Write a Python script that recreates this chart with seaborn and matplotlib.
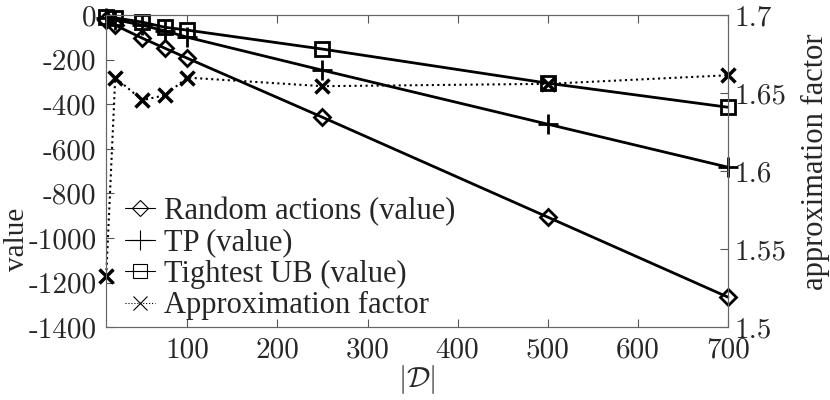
import pandas as pd
import matplotlib.pyplot as plt
import seaborn as sns
from matplotlib.lines import Line2D

# data
sizes = [10, 20, 50, 75, 100, 250, 500, 700]
random_value = [-22, -45, -103, -148, -193, -458, -906, -1265]
tp_value = [-13, -20, -45, -70, -99, -247, -489, -682]
ub_value = [-9, -12, -31, -54, -67, -152, -305, -413]
approx_factor = [1.533, 1.660, 1.6455, 1.6487, 1.660, 1.6545, 1.656, 1.6615]

value_ticks = [0, -200, -400, -600, -800, -1000, -1200, -1400]
factor_ticks = [1.5, 1.55, 1.6, 1.65, 1.7]
x_ticks = [100, 200, 300, 400, 500, 600, 700]

sns.set_style("ticks")
plt.rcParams['font.family'] = ['cmr10', 'DejaVu Serif']
plt.rcParams['mathtext.fontset'] = 'cm'
plt.rcParams['axes.unicode_minus'] = False
plt.rcParams['axes.formatter.use_mathtext'] = True

times = ['Liberation Serif', 'DejaVu Serif']
cm = ['cmr10', 'DejaVu Serif']

df = pd.DataFrame({
    "size": sizes,
    "random": random_value,
    "tp": tp_value,
    "ub": ub_value,
    "factor": approx_factor,
})

fig, ax = plt.subplots(figsize=(8.3, 4.0), dpi=100)
ax2 = ax.twinx()

style = dict(color="black", linewidth=2, markersize=10, markerfacecolor="none",
             markeredgecolor="black", markeredgewidth=2, clip_on=False)
sns.lineplot(data=df, x="size", y="random", marker="D", ax=ax, **{**style, "markersize": 8})
sns.lineplot(data=df, x="size", y="tp", marker="+", ax=ax, **{**style, "markersize": 14})
sns.lineplot(data=df, x="size", y="ub", marker="s", ax=ax, **style)
sns.lineplot(data=df, x="size", y="factor", marker="x", ax=ax2,
             color="black", linewidth=1.5, linestyle=":", markersize=10,
             markeredgecolor="black", markeredgewidth=2.5, clip_on=False)

fs = 21
ax.set_xlim(10, 700)
ax.set_ylim(-1400, 0)
ax2.set_ylim(1.5, 1.7)

ax.set_xticks(x_ticks)
ax.set_xticklabels([str(t) for t in x_ticks], fontsize=fs, family=cm)
ax.set_yticks(value_ticks)
ax.set_yticklabels([str(t) for t in value_ticks], fontsize=fs, family=cm)
ax2.set_yticks(factor_ticks)
ax2.set_yticklabels([f"{t:g}" for t in factor_ticks], fontsize=fs, family=cm)

ax.tick_params(axis="both", direction="in", length=6, width=0.8, color="#555555", top=True)
ax.tick_params(axis="y", pad=7)
ax.tick_params(axis="x", pad=7)
ax2.tick_params(axis="y", direction="in", length=6, width=0.8, color="#555555", pad=5)
for a in (ax, ax2):
    for sp in a.spines.values():
        sp.set_visible(True)
        sp.set_color("#666666")
        sp.set_linewidth(0.8)

ax.set_xlabel(r"$|\mathcal{D}|$", fontsize=fs, labelpad=0)
ax.set_ylabel("value", fontsize=21, family=times)
ax.yaxis.set_label_coords(-0.122, 0.28)
ax2.set_ylabel("approximation factor", fontsize=22, family=times)
ax2.yaxis.set_label_coords(1.117, 0.53)

handles = [
    Line2D([], [], color="black", lw=0.8, marker="D", markersize=8, mfc="none", mew=0.8),
    Line2D([], [], color="black", lw=0.8, marker="+", markersize=14, mew=0.8),
    Line2D([], [], color="black", lw=0.8, marker="s", markersize=10, mfc="none", mew=0.8),
    Line2D([], [], color="black", lw=0.8, ls=":", marker="x", markersize=10, mew=0.8),
]
labels = ["Random actions (value)", "TP (value)", "Tightest UB (value)", "Approximation factor"]
ax2.legend(handles, labels, loc="lower left", bbox_to_anchor=(0.0, -0.037), frameon=False,
           prop={"family": times, "size": 22}, handlelength=1.0, handletextpad=0.3,
           labelspacing=0.08, borderaxespad=0.2)

fig.subplots_adjust(left=0.128, right=0.877, top=0.962, bottom=0.182)
fig.savefig("out.png", dpi=100)
